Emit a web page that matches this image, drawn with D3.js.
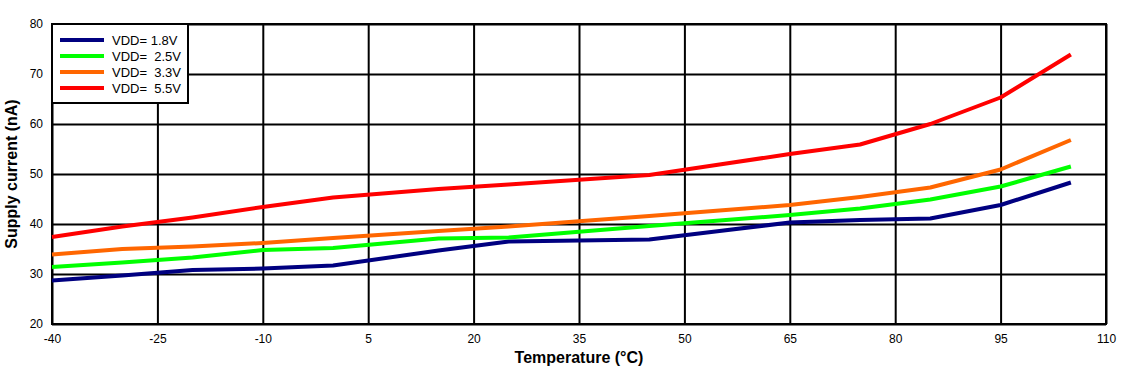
<!DOCTYPE html>
<html>
<head>
<meta charset="utf-8">
<script src="https://cdn.jsdelivr.net/npm/d3@7"></script>
<style>
    html, body { margin: 0; padding: 0; background: #fff; }
    #chart-supply { width: 1133px; height: 376px; }
    #chart-supply text { font-family: "Liberation Sans", Arial, sans-serif; fill: #000; }
</style>
</head>
<body>
<div id="chart-supply"></div>
<script>
var TEMPS   = [-40, -30, -20, -10, 0, 15, 25, 45, 55, 65, 75, 85, 95, 105];
var VDD_18  = [28.7, 29.7, 30.8, 31.1, 31.7, 34.7, 36.5, 36.9, 38.6, 40.3, 40.8, 41.1, 43.8, 48.3];
var VDD_25  = [31.4, 32.3, 33.3, 34.8, 35.2, 37.1, 37.3, 39.6, 40.7, 41.8, 43.1, 44.9, 47.5, 51.5];
var VDD_33  = [33.9, 35.0, 35.5, 36.2, 37.2, 38.6, 39.5, 41.6, 42.7, 43.8, 45.4, 47.3, 50.9, 56.8];
var VDD_55  = [37.4, 39.5, 41.3, 43.4, 45.3, 47.0, 47.9, 49.8, 51.9, 54.0, 55.9, 60.0, 65.3, 73.9];

var X_TICKS = [-40, -25, -10, 5, 20, 35, 50, 65, 80, 95, 110];
var Y_TICKS = [20, 30, 40, 50, 60, 70, 80];

var SERIES = [
    { label: "VDD= 1.8V",  values: VDD_18, color: "#000080" },
    { label: "VDD=\u00a0 2.5V", values: VDD_25, color: "#00ff00" },
    { label: "VDD=\u00a0 3.3V", values: VDD_33, color: "#ff6600" },
    { label: "VDD=\u00a0 5.5V", values: VDD_55, color: "#ff0000" }
];

(function () {
    var W = 1133, H = 376;
    var margin = { top: 24, right: 27, bottom: 52, left: 52 };
    var iW = W - margin.left - margin.right;
    var iH = H - margin.top - margin.bottom;

    // plain hyphen for negatives, like the original
    var fmt = function (v) { return String(v); };

    var svg = d3.select("#chart-supply")
        .append("svg")
        .attr("width", W)
        .attr("height", H);

    var g = svg.append("g")
        .attr("transform", "translate(" + margin.left + "," + margin.top + ")");

    var x = d3.scaleLinear().domain([-40, 110]).range([0, iW]);
    var y = d3.scaleLinear().domain([20, 80]).range([iH, 0]);

    /* grid */
    g.append("g")
        .attr("class", "grid-x")
        .call(d3.axisBottom(x).tickValues(X_TICKS).tickSize(iH).tickFormat(""))
        .call(function (s) { s.select(".domain").remove(); });
    g.append("g")
        .attr("class", "grid-y")
        .call(d3.axisLeft(y).tickValues(Y_TICKS).tickSize(-iW).tickFormat(""))
        .call(function (s) { s.select(".domain").remove(); });
    g.selectAll(".grid-x line, .grid-y line")
        .attr("stroke", "#000")
        .attr("stroke-width", 2);

    /* frame */
    g.append("rect")
        .attr("width", iW).attr("height", iH)
        .attr("fill", "none")
        .attr("stroke", "#000")
        .attr("stroke-width", 2);

    /* tick labels */
    var xAxis = g.append("g")
        .attr("transform", "translate(0," + iH + ")")
        .call(d3.axisBottom(x).tickValues(X_TICKS).tickSize(0).tickPadding(10).tickFormat(fmt));
    var yAxis = g.append("g")
        .call(d3.axisLeft(y).tickValues(Y_TICKS).tickSize(0).tickPadding(9).tickFormat(fmt));
    [xAxis, yAxis].forEach(function (a) {
        a.select(".domain").remove();
        a.selectAll("text")
            .style("font-size", "12px")
            .style("font-family", "'Liberation Sans', Arial, sans-serif");
    });

    /* axis titles */
    svg.append("text")
        .attr("x", margin.left + iW / 2)
        .attr("y", 363)
        .attr("text-anchor", "middle")
        .style("font-size", "16px")
        .style("font-weight", "bold")
        .text("Temperature (\u00b0C)");
    svg.append("text")
        .attr("transform", "translate(17," + (margin.top + iH / 2) + ") rotate(-90)")
        .attr("text-anchor", "middle")
        .style("font-size", "16px")
        .style("font-weight", "bold")
        .text("Supply current (nA)");

    /* lines */
    var line = d3.line()
        .x(function (d, i) { return x(TEMPS[i]); })
        .y(function (d) { return y(d); });

    SERIES.forEach(function (s) {
        g.append("path")
            .datum(s.values)
            .attr("fill", "none")
            .attr("stroke", s.color)
            .attr("stroke-width", 4)
            .attr("stroke-linejoin", "round")
            .attr("d", line);
    });

    /* legend */
    var legend = g.append("g").attr("class", "legend");
    legend.append("rect")
        .attr("width", 136).attr("height", 79)
        .attr("fill", "#fff")
        .attr("stroke", "#000")
        .attr("stroke-width", 2);
    SERIES.forEach(function (s, i) {
        var row = legend.append("g")
            .attr("transform", "translate(0," + (16 + i * 16) + ")");
        row.append("line")
            .attr("x1", 8).attr("x2", 52)
            .attr("stroke", s.color)
            .attr("stroke-width", 4);
        row.append("text")
            .attr("x", 60).attr("y", 5)
            .style("font-size", "13px")
            .text(s.label);
    });
}());
</script>
</body>
</html>
